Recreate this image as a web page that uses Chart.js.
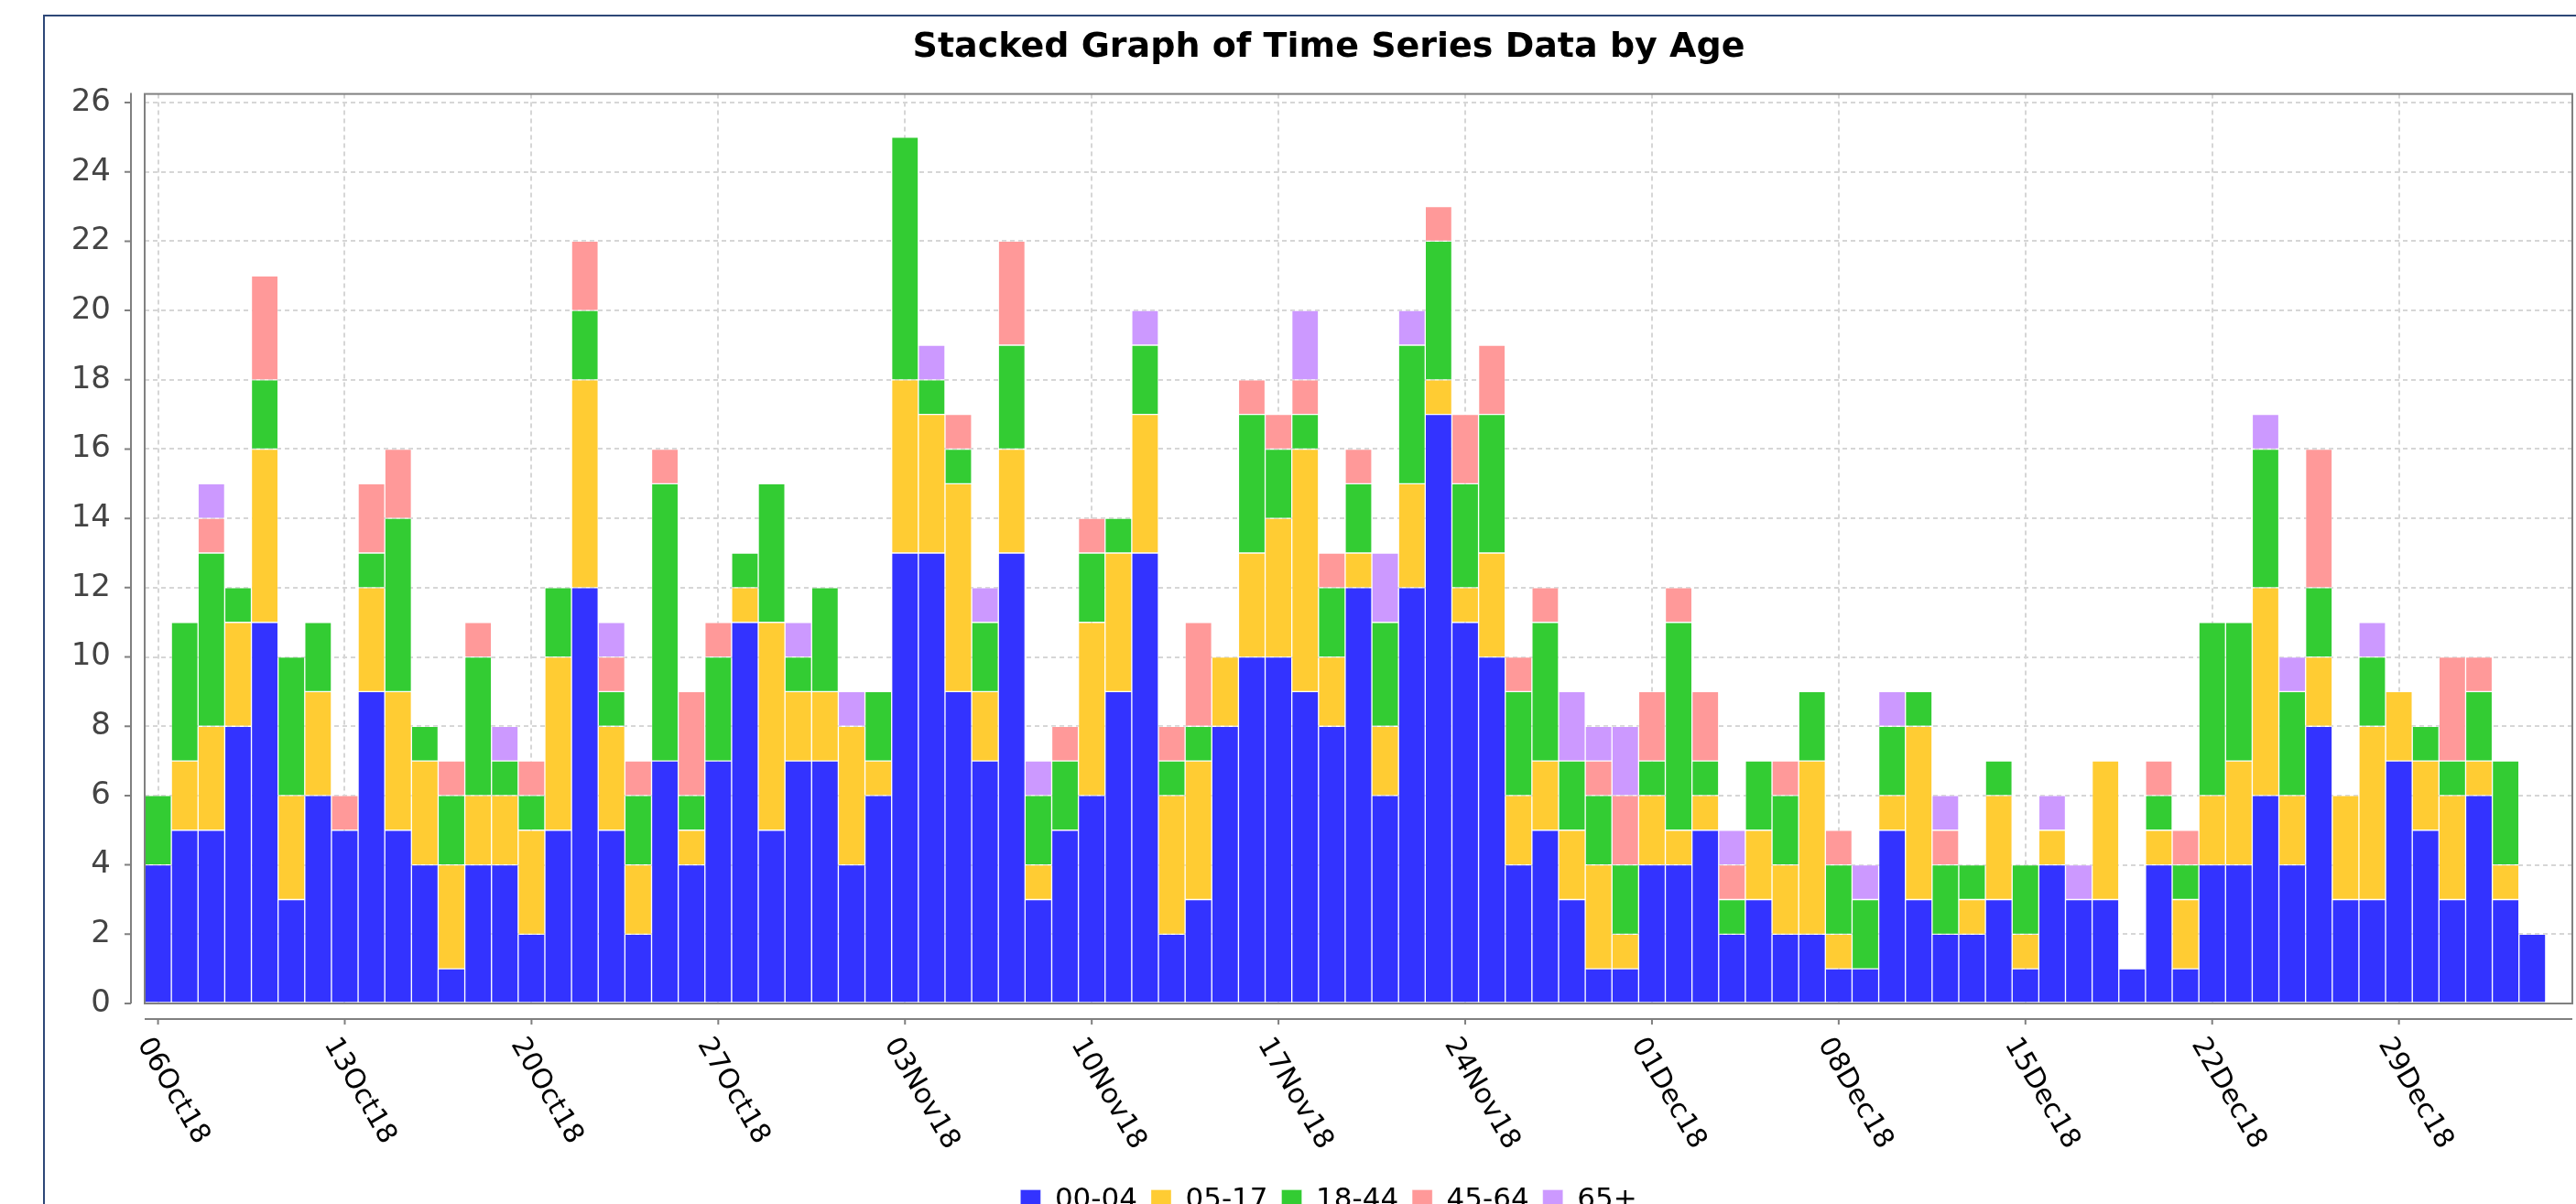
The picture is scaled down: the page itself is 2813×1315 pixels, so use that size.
<!DOCTYPE html>
<html>
<head>
<meta charset="utf-8">
<title>Stacked Graph of Time Series Data by Age</title>
<script src="https://cdn.jsdelivr.net/npm/chart.js@4.4.1/dist/chart.umd.min.js"></script>
<style>
  body { margin: 0; background: #fff; overflow: hidden; }
  #painel {
    position: absolute; left: 47px; top: 16px; width: 2900px; height: 1400px;
    border-left: 2px solid #2d4777; border-top: 2px solid #2d4777;
  }
  #caixa { position: absolute; left: 0; top: 0; width: 2804px; height: 1330px; }
</style>
</head>
<body>
<div id="painel"><div id="caixa"><canvas id="chart1"></canvas></div></div>
<script>
// dias (o ultimo fica vazio, o eixo de datas vai um dia alem)
const dias = [
  '06Oct18','07Oct18','08Oct18','09Oct18','10Oct18','11Oct18','12Oct18',
  '13Oct18','14Oct18','15Oct18','16Oct18','17Oct18','18Oct18','19Oct18',
  '20Oct18','21Oct18','22Oct18','23Oct18','24Oct18','25Oct18','26Oct18',
  '27Oct18','28Oct18','29Oct18','30Oct18','31Oct18','01Nov18','02Nov18',
  '03Nov18','04Nov18','05Nov18','06Nov18','07Nov18','08Nov18','09Nov18',
  '10Nov18','11Nov18','12Nov18','13Nov18','14Nov18','15Nov18','16Nov18',
  '17Nov18','18Nov18','19Nov18','20Nov18','21Nov18','22Nov18','23Nov18',
  '24Nov18','25Nov18','26Nov18','27Nov18','28Nov18','29Nov18','30Nov18',
  '01Dec18','02Dec18','03Dec18','04Dec18','05Dec18','06Dec18','07Dec18',
  '08Dec18','09Dec18','10Dec18','11Dec18','12Dec18','13Dec18','14Dec18',
  '15Dec18','16Dec18','17Dec18','18Dec18','19Dec18','20Dec18','21Dec18',
  '22Dec18','23Dec18','24Dec18','25Dec18','26Dec18','27Dec18','28Dec18',
  '29Dec18','30Dec18','31Dec18','01Jan19','02Jan19','03Jan19','04Jan19'
];

const tickLabels = ['06Oct18', '13Oct18', '20Oct18', '27Oct18', '03Nov18', '10Nov18', '17Nov18',
  '24Nov18', '01Dec18', '08Dec18', '15Dec18', '22Dec18', '29Dec18'];

const yTicks = [0, 2, 4, 6, 8, 10, 12, 14, 16, 18, 20, 22, 24, 26];

// contagens por faixa etaria
const idade0004 = [4,5,5,8,11,3,6, 5,9,5,4,1,4,4, 2,5,12,5,2,7,4, 7,11,5,7,7,4,6,
  13,13,9,7,13,3,5, 6,9,13,2,3,8,10, 10,9,8,12,6,12,17, 11,10,4,5,3,1,1,
  4,4,5,2,3,2,2, 1,1,5,3,2,2,3, 1,4,3,3,1,4,1, 4,4,6,4,8,3,3, 7,5,3,6,3,2];
const idade0517 = [0,2,3,3,5,3,3, 0,3,4,3,3,2,2, 3,5,6,3,2,0,1, 0,1,6,2,2,4,1,
  5,4,6,2,3,1,0, 5,4,4,4,4,2,3, 4,7,2,1,2,3,1, 1,3,2,2,2,3,1,
  2,1,1,0,2,2,5, 1,0,1,5,0,1,3, 1,1,0,4,0,1,2, 2,3,6,2,2,3,5, 2,2,3,1,1,0];
const idade1844 = [2,4,5,1,2,4,2, 0,1,5,1,2,4,1, 1,2,2,1,2,8,1, 3,1,4,1,3,0,2,
  7,1,1,2,3,2,2, 2,1,2,1,1,0,4, 2,1,2,2,3,4,4, 3,4,3,4,2,2,2,
  1,6,1,1,2,2,2, 2,2,2,1,2,1,1, 2,0,0,0,0,1,1, 5,4,4,3,2,0,2, 0,1,1,2,3,0];
const idade4564 = [0,0,1,0,3,0,0, 1,2,2,0,1,1,0, 1,0,2,1,1,1,3, 1,0,0,0,0,0,0,
  0,0,1,0,3,0,1, 1,0,0,1,3,0,1, 1,1,1,1,0,0,1, 2,2,1,1,0,1,2,
  2,1,2,1,0,1,0, 1,0,0,0,1,0,0, 0,0,0,0,0,1,1, 0,0,0,0,4,0,0, 0,0,3,1,0,0];
const idade65 = [0,0,1,0,0,0,0, 0,0,0,0,0,0,1, 0,0,0,1,0,0,0, 0,0,0,1,0,1,0,
  0,1,0,1,0,1,0, 0,0,1,0,0,0,0, 0,2,0,0,2,1,0, 0,0,0,0,2,1,2,
  0,0,0,1,0,0,0, 0,1,1,0,1,0,0, 0,1,1,0,0,0,0, 0,0,1,1,0,0,1, 0,0,0,0,0,0];

const fonte = '"DejaVu Sans", "Liberation Sans", sans-serif';

// eixos afastados da area do grafico, como no JFreeChart
const eixosJFree = {
  id: 'eixosJFree',
  afterDraw(chart) {
    const { ctx, chartArea: a, scales: { x, y } } = chart;
    ctx.save();
    ctx.strokeStyle = '#808080';
    ctx.lineWidth = 2;
    ctx.strokeRect(a.left, a.top, a.right - a.left, a.bottom - a.top);

    const ex = a.left - 15;
    const ey = a.bottom + 17;
    ctx.beginPath();
    ctx.moveTo(ex, a.top - 1);
    ctx.lineTo(ex, a.bottom);
    yTicks.forEach(v => {
      const py = y.getPixelForValue(v);
      ctx.moveTo(ex - 7, py);
      ctx.lineTo(ex, py);
    });
    ctx.moveTo(a.left, ey);
    ctx.lineTo(a.right, ey);
    tickLabels.forEach(lbl => {
      const px = x.getPixelForValue(dias.indexOf(lbl));
      ctx.moveTo(px, ey);
      ctx.lineTo(px, ey + 6);
    });
    ctx.stroke();

    // rotulos do eixo y
    ctx.fillStyle = '#444';
    ctx.font = '34px ' + fonte;
    ctx.textAlign = 'right';
    ctx.textBaseline = 'middle';
    yTicks.forEach(v => {
      ctx.fillText(String(v), a.left - 37, y.getPixelForValue(v));
    });

    // rotulos de data inclinados para baixo
    ctx.fillStyle = '#000';
    ctx.font = '30px ' + fonte;
    ctx.textAlign = 'left';
    tickLabels.forEach(lbl => {
      const px = x.getPixelForValue(dias.indexOf(lbl));
      ctx.save();
      ctx.translate(px - 16, a.bottom + 40);
      ctx.rotate(Math.PI / 3);
      ctx.fillText(lbl, 0, 0);
      ctx.restore();
    });
    ctx.restore();
  }
};

const serie = (label, data, cor) => ({
  label: label,
  data: data,
  backgroundColor: cor,
  borderColor: 'rgba(255, 255, 255, 0.3)',
  borderWidth: 1,
  borderSkipped: false,
  categoryPercentage: 1,
  barPercentage: 1
});

new Chart(
  document.getElementById('chart1'),
  {
    type: 'bar',
    data: {
      labels: dias,
      datasets: [
        serie('00-04', idade0004, '#3333FF'),
        serie('05-17', idade0517, '#FFCC33'),
        serie('18-44', idade1844, '#33CC33'),
        serie('45-64', idade4564, '#FF9999'),
        serie('65+', idade65, '#CC99FF')
      ]
    },
    options: {
      responsive: true,
      maintainAspectRatio: false,
      animation: false,
      layout: { padding: { left: 44, right: 44, top: 0, bottom: 12 } },
      plugins: {
        title: {
          display: true,
          text: 'Stacked Graph of Time Series Data by Age',
          color: '#000',
          font: { family: fonte, size: 38, weight: 'bold' },
          padding: { top: 11, bottom: 28 }
        },
        legend: {
          position: 'bottom',
          labels: {
            color: '#000',
            font: { family: fonte, size: 31 },
            boxWidth: 22,
            boxHeight: 22,
            padding: 15
          }
        },
        tooltip: { enabled: false }
      },
      scales: {
        x: {
          stacked: true,
          ticks: { display: false, autoSkip: false },
          grid: {
            offset: false,
            drawTicks: false,
            lineWidth: 2,
            color: (c) => tickLabels.includes(dias[c.index]) ? '#d6d6d6' : 'rgba(0,0,0,0)'
          },
          border: { display: false, dash: [5, 4] },
          afterFit: (scale) => { scale.height = 184; }
        },
        y: {
          stacked: true,
          min: 0,
          max: 26.25,
          ticks: { display: false, stepSize: 2, includeBounds: false },
          grid: { drawTicks: false, lineWidth: 2, color: '#d6d6d6' },
          border: { display: false, dash: [5, 4] },
          afterFit: (scale) => { scale.width = 65; }
        }
      }
    },
    plugins: [eixosJFree]
  }
);
</script>
</body>
</html>
